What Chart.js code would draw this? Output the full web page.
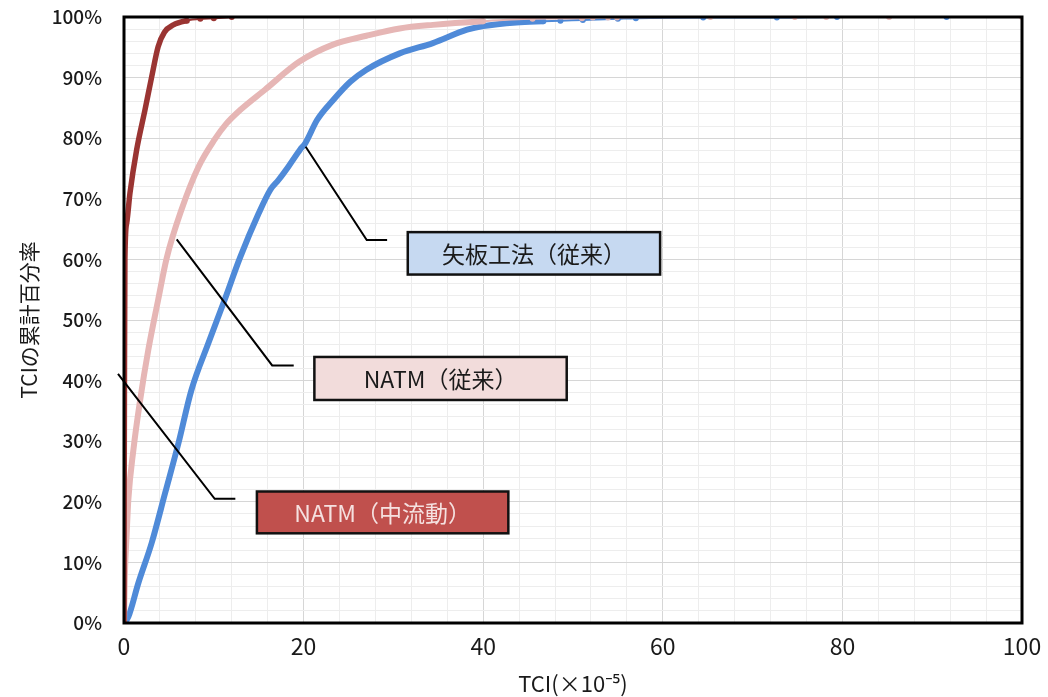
<!DOCTYPE html>
<html>
<head>
<meta charset="utf-8">
<script src="https://cdn.jsdelivr.net/npm/chart.js@4/dist/chart.umd.min.js"></script>
<style>
html,body{margin:0;padding:0;background:#fff;}
canvas{display:block;}
</style>
</head>
<body>
<canvas id="c" width="1048" height="697"></canvas>
<script>
// ---- data (TCI ×10^-5 , cumulative %) ----
const yaitaX = [0,0.48,1.6,3.08,4.57,6.05,7.5,9.4,11.2,12.9,15.0,16.3,17.2,18.3,19.6,20.2,21.5,23.3,25.2,27.0,30.7,34.4,38.2,40.0,43.7,46.7,48.6,51.1,55,57,64.5,72.7,79.4,91.6];
const yaitaY = [0,1.0,6.6,13.2,21.4,29.6,38.4,46.2,53.3,60.2,67.6,71.5,73.1,75.3,78.1,79.2,83.0,86.3,89.3,91.3,94.0,95.7,97.9,98.5,99.1,99.3,99.4,99.5,99.7,99.8,99.9,99.9,100,100];
const natmX = [0,0.1,0.3,0.48,1.04,1.8,2.7,3.8,4.75,6.4,8.3,10.1,11.4,12.9,15.7,19.5,23.2,27.0,30.7,34.4,40,45.5,51,52.2,53.9,54.9,65.3,74.7,78.2,85.2,100];
const natmY = [0,8,14.8,20.3,28.5,36.8,45,53.3,60.2,68.2,75.3,79.8,82.4,84.6,88.0,92.6,95.4,96.9,98.1,98.7,99.3,99.7,99.8,99.9,99.9,99.9,100,100,100,100,100];
const chuX = [0,0.02,0.05,0.1,0.3,0.67,1.41,2.34,3.08,3.8,4.5,5.5,7.0,8.5,10,12];
const chuY = [0,20,40,60,66,71,78.1,84.7,90.1,95.1,97.5,98.7,99.4,99.7,99.8,100];
const seriesNames = ['NATM(中流動)','NATM(従来)','矢板工法(従来)'];
const xTickLabels = ['0','20','40','60','80','100'];
const yTickLabels = ['0%','10%','20%','30%','40%','50%','60%','70%','80%','90%','100%'];

const FONT = "'Noto Sans CJK JP','Noto Sans',sans-serif";
const toPts = (xs, ys) => xs.map((x, i) => ({x: x, y: ys[i]}));

// annotation call-outs (data units)
const callouts = [
  {text: seriesNames[2], fill:'#C6D9F1', color:'#1a1a1a', line:[[20.23,78.6],[27.03,63.2],[29.3,63.2]], box:[31.6,64.5,59.7,57.5]},
  {text: seriesNames[1], fill:'#F2DCDB', color:'#1a1a1a', line:[[5.87,63.3],[16.5,42.5],[18.9,42.5]], box:[21.2,43.9,49.3,36.8]},
  {text: seriesNames[0], fill:'#C0504D', color:'#F5E1E0', line:[[-0.67,41.1],[10.1,20.5],[12.4,20.5]], box:[14.8,21.7,42.8,14.8]}
];

const tailPoint = ctx => (ctx.raw && ctx.raw.y >= 99.3) ? 3 : 0;
const seg = w => ({ borderWidth: c => (c.p0.parsed.y >= 99.3 && c.p1.parsed.y >= 99.3) ? 2 : w });

const framePlugin = {
  id: 'frame',
  beforeDraw(chart) {
    const c = chart.ctx;
    c.save(); c.fillStyle = '#fff'; c.fillRect(0, 0, chart.width, chart.height); c.restore();
  },
  afterDatasetsDraw(chart) {
    const c = chart.ctx, a = chart.chartArea;
    c.save();
    c.strokeStyle = '#000'; c.lineWidth = 3;
    c.strokeRect(a.left, a.top, a.right - a.left, a.bottom - a.top);
    c.restore();
  },
  afterDraw(chart) {
    const c = chart.ctx, xs = chart.scales.x, ys = chart.scales.y;
    c.save();
    callouts.forEach(o => {
      c.strokeStyle = '#000'; c.lineWidth = 2;
      c.beginPath();
      o.line.forEach((p, i) => {
        const px = xs.getPixelForValue(p[0]), py = ys.getPixelForValue(p[1]);
        if (i === 0) c.moveTo(px, py); else c.lineTo(px, py);
      });
      c.stroke();
      const x0 = xs.getPixelForValue(o.box[0]), y0 = ys.getPixelForValue(o.box[1]);
      const x1 = xs.getPixelForValue(o.box[2]), y1 = ys.getPixelForValue(o.box[3]);
      c.fillStyle = o.fill;
      c.fillRect(x0, y0, x1 - x0, y1 - y0);
      c.lineWidth = 2.5; c.strokeStyle = '#111';
      c.strokeRect(x0, y0, x1 - x0, y1 - y0);
      c.fillStyle = o.color;
      c.font = "23px " + FONT;
      c.textAlign = 'center'; c.textBaseline = 'middle';
      c.fillText(o.text.replace('(', '（').replace(')', '）'), (x0 + x1) / 2, (y0 + y1) / 2 + 1);
    });
    c.restore();
  }
};

new Chart(document.getElementById('c'), {
  type: 'scatter',
  data: {
    datasets: [
      {label: seriesNames[0], data: toPts(chuX, chuY), showLine: true, cubicInterpolationMode: 'monotone', borderColor:'#9A3432', backgroundColor:'#9A3432', borderWidth:5.5, pointRadius: tailPoint, pointBorderWidth:0, segment: seg(5.5)},
      {label: seriesNames[1], data: toPts(natmX, natmY), showLine: true, cubicInterpolationMode: 'monotone', borderColor:'#E6B6B5', backgroundColor:'#E6B6B5', borderWidth:6, pointRadius: tailPoint, pointBorderWidth:0, segment: seg(6)},
      {label: seriesNames[2], data: toPts(yaitaX, yaitaY), showLine: true, cubicInterpolationMode: 'monotone', borderColor:'#4F8AD8', backgroundColor:'#4F8AD8', borderWidth:6, pointRadius: tailPoint, pointBorderWidth:0, segment: seg(6)}
    ]
  },
  options: {
    responsive: false,
    animation: false,
    devicePixelRatio: 1,
    layout: {padding: {top: 17, right: 26, left: 0, bottom: 0}},
    plugins: {legend: {display: false}, tooltip: {enabled: false}},
    scales: {
      x: {
        type: 'linear', min: 0, max: 100,
        afterFit(s) { s.height = 74; },
        ticks: {
          stepSize: 4, autoSkip: false, maxRotation: 0, padding: 0, color: '#1a1a1a',
          font: {family: FONT, size: 23},
          callback: v => (v % 20 === 0) ? xTickLabels[v / 20] : ''
        },
        grid: {
          drawTicks: true, tickLength: 9, tickColor: 'rgba(0,0,0,0)',
          color: ctx => (ctx.tick && ctx.tick.value % 20 === 0) ? '#d6d6d6' : '#ededed',
          lineWidth: 1
        },
        border: {display: false},
        title: {display: true, text: 'TCI(×10⁻⁵)', color: '#1a1a1a', font: {family: FONT, size: 22}, padding: {top: 0, bottom: 0}}
      },
      y: {
        type: 'linear', min: 0, max: 100,
        afterFit(s) { s.width = 124; },
        ticks: {
          stepSize: 2, autoSkip: false, padding: 0, color: '#1a1a1a',
          font: {family: FONT, size: 19, weight: '500'},
          callback: v => (v % 10 === 0) ? yTickLabels[v / 10] : ''
        },
        grid: {
          drawTicks: true, tickLength: 22, tickColor: 'rgba(0,0,0,0)',
          color: ctx => (ctx.tick && ctx.tick.value % 10 === 0) ? '#d6d6d6' : '#ededed',
          lineWidth: 1
        },
        border: {display: false},
        title: {display: true, text: 'TCIの累計百分率', color: '#1a1a1a', font: {family: FONT, size: 21}, padding: {top: 16, bottom: 0}}
      }
    }
  },
  plugins: [framePlugin]
});
</script>
</body>
</html>
